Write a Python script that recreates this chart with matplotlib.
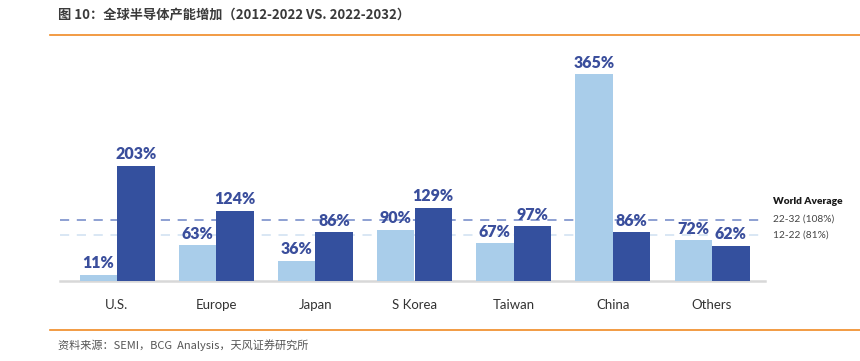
import matplotlib
matplotlib.use("Agg")
import matplotlib.pyplot as plt
from matplotlib.lines import Line2D

plt.rcParams['font.family'] = ['Noto Sans CJK SC', 'DejaVu Sans']

regions = ["U.S.", "Europe", "Japan", "S Korea", "Taiwan", "China", "Others"]
growth_12_22 = [11, 63, 36, 90, 67, 365, 72]
growth_22_32 = [203, 124, 86, 129, 97, 86, 62]
avg_12_22 = 81
avg_22_32 = 108

title = "图 10：全球半导体产能增加（2012-2022 VS. 2022-2032）"
source = "资料来源：SEMI，BCG  Analysis，天风证券研究所"

W, H = 860, 361
fig = plt.figure(figsize=(W / 100, H / 100), dpi=100)

light = "#A9CDEA"
dark = "#34509E"
labc = "#3A4E9C"

# axes placement (pixels)
x0, x1 = 60, 765
ybase, ytop = 281, 40
ax = fig.add_axes([x0 / W, (H - ybase) / H, (x1 - x0) / W, (ybase - ytop) / H])
pxu = (281 - 74) / 365.0
ax.set_ylim(0, (ybase - ytop) / pxu)
pitch = (712 - 117) / 6.0
ax.set_xlim((x0 - 117) / pitch, (x1 - 117) / pitch)
bw = 37.5 / pitch

xs = list(range(len(regions)))
ax.bar([x - bw / 2 for x in xs], growth_12_22, width=bw, color=light, zorder=3)
ax.bar([x + bw / 2 for x in xs], growth_22_32, width=bw, color=dark, zorder=3)

lab_font = dict(family=['Lato', 'DejaVu Sans'], fontweight='heavy', fontsize=11.5, color=labc)
for x, v in zip(xs, growth_12_22):
    ax.annotate(f"{v}%", (x - bw / 2, v), xytext=(0, 2.5), textcoords='offset points',
                ha='center', va='bottom', zorder=4, **lab_font)
for x, v in zip(xs, growth_22_32):
    ax.annotate(f"{v}%", (x + bw / 2, v), xytext=(0, 2.5), textcoords='offset points',
                ha='center', va='bottom', zorder=4, **lab_font)

ax.axhline(avg_22_32, color="#6F86C6", lw=1.1, ls=(0, (6, 5)), zorder=1)
ax.axhline(avg_12_22, color="#CFE0F1", lw=1.1, ls=(0, (6, 5)), zorder=1)

for s in ['top', 'right', 'left']:
    ax.spines[s].set_visible(False)
ax.spines['bottom'].set_color("#D8D8D8")
ax.spines['bottom'].set_linewidth(1.8)
ax.set_yticks([])
ax.set_xticks(xs)
ax.set_xticklabels(regions, family=['Lato', 'DejaVu Sans'], fontsize=9.5, color="#333333")
ax.tick_params(axis='x', length=0, pad=13)

# legend texts at right
def fy(py):
    return 1 - py / H
fig.text(773 / W, fy(201), "World Average", fontsize=7.3, fontweight='heavy',
         family=['Lato', 'DejaVu Sans'], color="#1A1A1A", va='center')
fig.text(773 / W, fy(219), "22-32 (108%)", fontsize=7.3, family=['Lato', 'DejaVu Sans'],
         color="#444444", va='center')
fig.text(773 / W, fy(235.5), "12-22 (81%)", fontsize=7.3, family=['Lato', 'DejaVu Sans'],
         color="#444444", va='center')

# header and footer
fig.text(58 / W, fy(14), title, fontsize=9.5, fontweight='bold', color="#3A3A3A", va='center')
fig.add_artist(Line2D([50 / W, 1], [fy(35), fy(35)], color="#F08A24", lw=1.2))
fig.add_artist(Line2D([50 / W, 1], [fy(330), fy(330)], color="#F08A24", lw=1.2))
fig.text(58 / W, fy(345), source, fontsize=8, color="#555555", va='center')

fig.savefig("out.png", dpi=100)
